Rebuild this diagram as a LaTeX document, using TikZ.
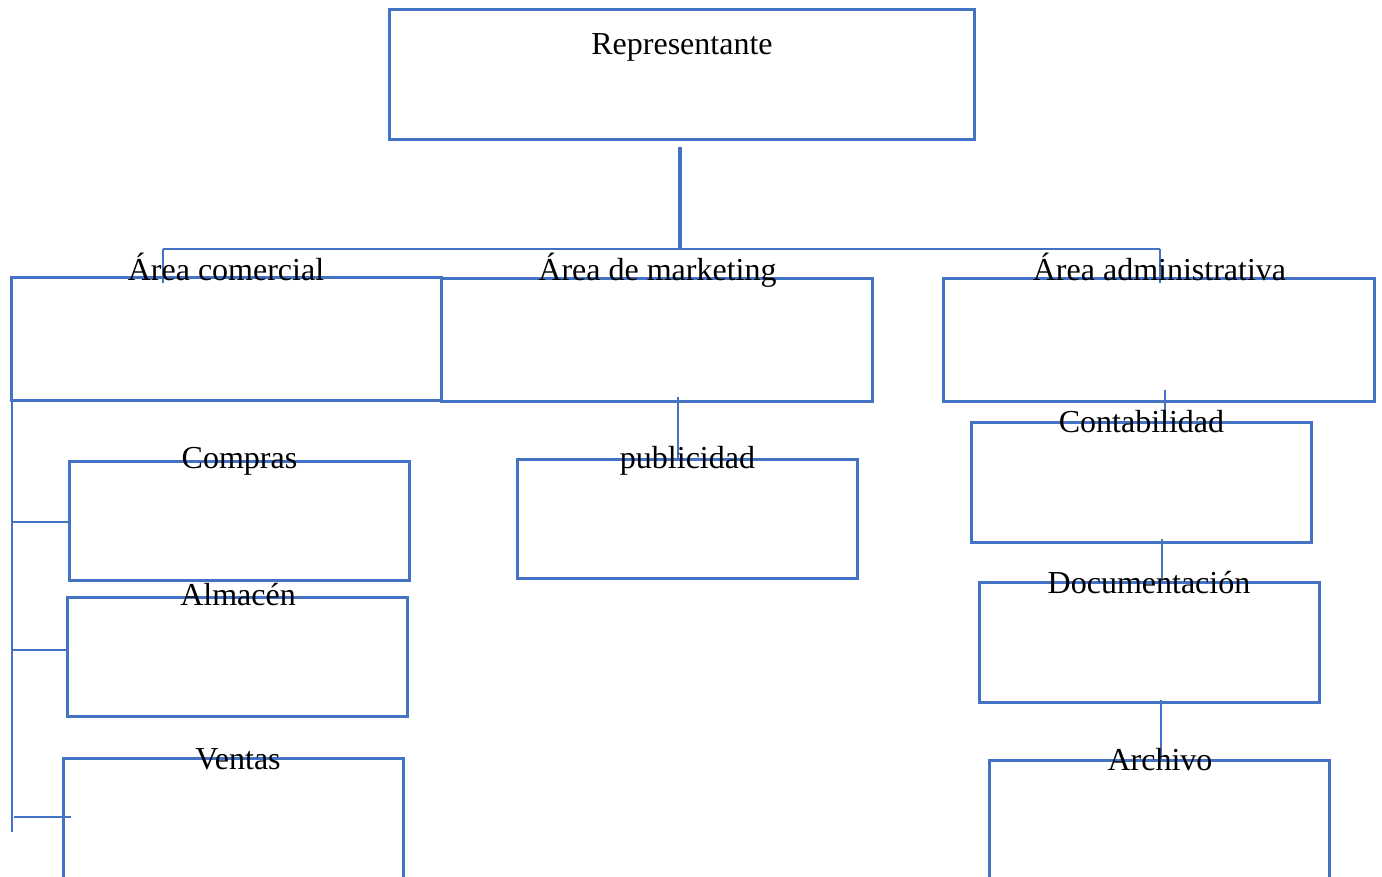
\documentclass[tikz,border=0pt]{standalone}
\usepackage{fontspec}
\setmainfont{Liberation Serif}
\definecolor{boxblue}{HTML}{4472C4}
\tikzset{
  box/.style={draw=boxblue, line width=3pt, inner sep=0pt, outer sep=0pt, rectangle},
  lbl/.style={anchor=base, inner sep=0pt, font=\fontsize{32}{38}\selectfont, text=black},
  thinline/.style={draw=boxblue, line width=1.2pt},
  thickline/.style={draw=boxblue, line width=3.5pt},
}
\begin{document}
\begin{tikzpicture}[x=1pt,y=-1pt]
\useasboundingbox (0,0) rectangle (1382,877);
\clip (0,0) rectangle (1382,877);
% boxes
\node[box, minimum width=585pt, minimum height=130pt] (rep) at (681.5,75) {};
\node[box, minimum width=430pt, minimum height=122pt] (com) at (226,339) {};
\node[box, minimum width=431pt, minimum height=122pt] (mkt) at (656.5,340) {};
\node[box, minimum width=431pt, minimum height=122pt] (adm) at (1158.5,340) {};
\node[box, minimum width=340pt, minimum height=119pt] (pub) at (687,518.5) {};
\node[box, minimum width=340pt, minimum height=119pt] (comp) at (239,520.5) {};
\node[box, minimum width=340pt, minimum height=119pt] (alm) at (237,656.5) {};
\node[box, minimum width=340pt, minimum height=122pt] (ven) at (233,819) {};
\node[box, minimum width=340pt, minimum height=120pt] (cont) at (1141,482) {};
\node[box, minimum width=340pt, minimum height=120pt] (doc) at (1149,642) {};
\node[box, minimum width=340pt, minimum height=122pt] (arc) at (1159,821) {};
% coordinates
\coordinate (busC) at (680,249);
\coordinate (busL) at (163,249);
\coordinate (busR) at (1160,249);
\coordinate (busLend) at (163,283);
\coordinate (busRend) at (1160,283);
\coordinate (spineEnd) at (12,832);
\coordinate (tickA) at (12,522);
\coordinate (tickB) at (12,650);
\coordinate (tickC) at (14,817);
\coordinate (tickCend) at (71,817);
% connectors
\draw[thickline] (rep.south -| busC) ++(0,7) -- (busC);
\draw[thinline] (busL) -- (busR);
\draw[thinline] (busL) -- (busLend);
\draw[thinline] (busR) -- (busRend);
\draw[thinline] ([xshift=21.5pt,yshift=4pt]mkt.south) -- ([xshift=-9pt]pub.north);
\draw[thinline] ([xshift=6.5pt,yshift=11pt]adm.south) -- ([xshift=24pt]cont.north);
\draw[thinline] ([xshift=21pt,yshift=3pt]cont.south) -- ([xshift=13pt]doc.north);
\draw[thinline] ([xshift=12pt,yshift=2pt]doc.south) -- ([xshift=2pt]arc.north);
\draw[thinline] ([xshift=1pt]com.south west) -- (spineEnd);
\draw[thinline] (tickA) -- (tickA -| comp.west);
\draw[thinline] (tickB) -- (tickB -| alm.west);
\draw[thinline] (tickC) -- (tickCend);
% labels
\node[lbl] (lrep) at (682,55) {Representante};
\node[lbl] (lcom) at (226,281) {Área comercial};
\node[lbl] (lmkt) at (657.5,281) {Área de marketing};
\node[lbl] (ladm) at (1159.5,281) {Área administrativa};
\node[lbl] (lcomp) at (239.5,468) {Compras};
\node[lbl] (lpub) at (687.5,468) {publicidad};
\node[lbl] (lalm) at (238,605) {Almacén};
\node[lbl] (lven) at (238,769) {Ventas};
\node[lbl] (lcont) at (1141.5,432) {Contabilidad};
\node[lbl] (ldoc) at (1149,593) {Documentación};
\node[lbl] (larc) at (1160,770) {Archivo};
\end{tikzpicture}
\end{document}
